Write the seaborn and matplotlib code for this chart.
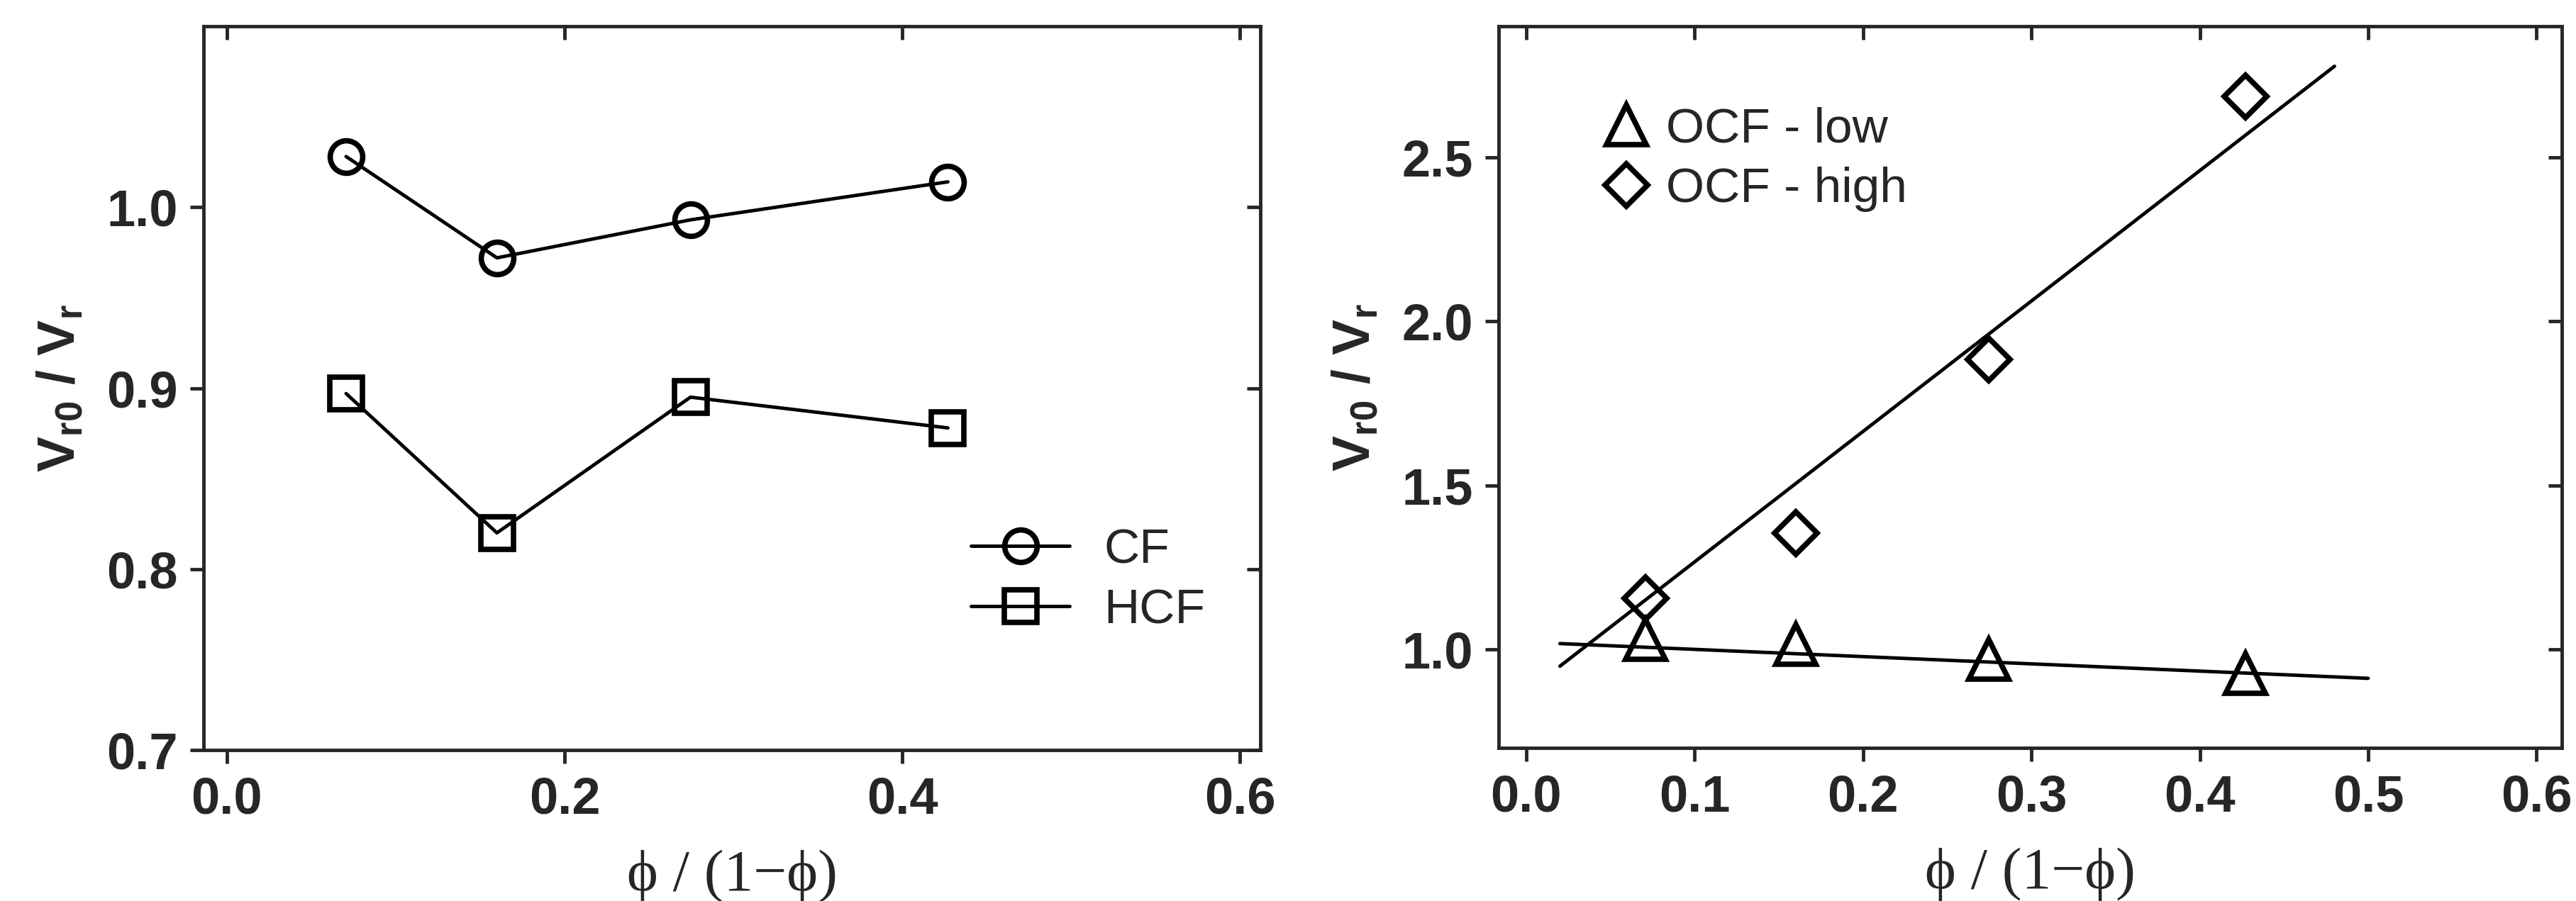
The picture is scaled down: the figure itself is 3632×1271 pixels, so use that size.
import numpy as np
import pandas as pd
import seaborn as sns
import matplotlib.pyplot as plt

x_ratio = [0.0707, 0.160, 0.2746, 0.427]
cf = [1.028, 0.972, 0.993, 1.014]
hcf = [0.897, 0.820, 0.895, 0.878]

ocf_low = [1.03, 1.015, 0.97, 0.926]
ocf_high = [1.156, 1.354, 1.884, 2.686]
fit_high_x = [0.02, 0.48]
fit_high_y = [0.949, 2.778]
fit_low_x = [0.02, 0.50]
fit_low_y = [1.018, 0.912]

sns.set_style("ticks")
plt.rcParams['font.family'] = ['Liberation Sans Narrow', 'Liberation Sans', 'DejaVu Sans']
plt.rcParams['axes.linewidth'] = 3.5
plt.rcParams['mathtext.fontset'] = 'custom'
plt.rcParams['mathtext.bf'] = 'Liberation Sans:bold'
plt.rcParams['mathtext.rm'] = 'Liberation Sans:bold'

fig = plt.figure(figsize=(36.32, 12.71), dpi=100)
ax1 = fig.add_axes([287 / 3632, 1 - 1058 / 1271, 1490 / 3632, 1021 / 1271])
ax2 = fig.add_axes([2113 / 3632, 1 - 1055 / 1271, 1499 / 3632, 1018 / 1271])

df_left = pd.DataFrame({"x": x_ratio * 2, "y": cf + hcf,
                        "series": ["CF"] * 4 + ["HCF"] * 4})
sns.lineplot(data=df_left, x="x", y="y", style="series", markers={"CF": "o", "HCF": "s"},
             dashes=False, color="black", lw=3.5, markersize=33, markeredgewidth=5.5,
             markerfacecolor="none", markeredgecolor="black", ax=ax1, legend=False)
ax1.plot([], [], color="black", lw=3.5, marker="o", ms=33, mew=5.5, mfc="none", label="CF")
ax1.plot([], [], color="black", lw=3.5, marker="s", ms=33, mew=5.5, mfc="none", label="HCF")
ax1.legend(loc="lower right", bbox_to_anchor=(0.99, 0.10), frameon=False, fontsize=50,
           handlelength=2.0, labelspacing=0.3, handletextpad=0.7)
ax1.set_xlim(-0.0137, 0.612)
ax1.set_ylim(0.7, 1.10)
ax1.set_xticks([0.0, 0.2, 0.4, 0.6])
ax1.set_yticks([0.7, 0.8, 0.9, 1.0])

sns.lineplot(x=fit_high_x, y=fit_high_y, color="black", lw=3.5, ax=ax2)
sns.lineplot(x=fit_low_x, y=fit_low_y, color="black", lw=3.5, ax=ax2)
ax2.plot(x_ratio, ocf_low, ls="none", marker="^", ms=40, mew=5.5, mfc="none", mec="black",
         label="OCF - low")
ax2.plot(x_ratio, ocf_high, ls="none", marker="D", ms=31, mew=5.5, mfc="none", mec="black",
         label="OCF - high")
ax2.legend(loc="upper left", bbox_to_anchor=(0.06, 0.95), frameon=False, fontsize=50,
           handlelength=0.8, labelspacing=0.3, handletextpad=0.4)
ax2.set_xlim(-0.0164, 0.615)
ax2.set_ylim(0.70, 2.90)
ax2.set_xticks(np.arange(0, 0.61, 0.1))
ax2.set_yticks([1.0, 1.5, 2.0, 2.5])

for ax in (ax1, ax2):
    for s in ax.spines.values():
        s.set_visible(True)
    ax.tick_params(axis="both", which="both", direction="out", length=14, width=3.5,
                   labelsize=52, pad=12)
    ax.tick_params(top=True, right=True)
    ax.xaxis.set_major_formatter(plt.FormatStrFormatter("%.1f"))
    ax.yaxis.set_major_formatter(plt.FormatStrFormatter("%.1f"))
    for lbl in ax.get_xticklabels() + ax.get_yticklabels():
        lbl.set_fontweight("bold")
    for t in ax.xaxis.get_major_ticks():
        t.tick2line.set_marker(3)  # inward on top
    for t in ax.yaxis.get_major_ticks():
        t.tick2line.set_marker(0)  # inward on right
    ax.set_xlabel("ϕ / (1−ϕ)", family="Liberation Serif", fontsize=60, labelpad=26)
    ax.set_ylabel(r"$\mathbf{V_{r0}}$ / $\mathbf{V_r}$", fontsize=54, fontweight="bold",
                  labelpad=22)

fig.savefig("out.png", dpi=100)
